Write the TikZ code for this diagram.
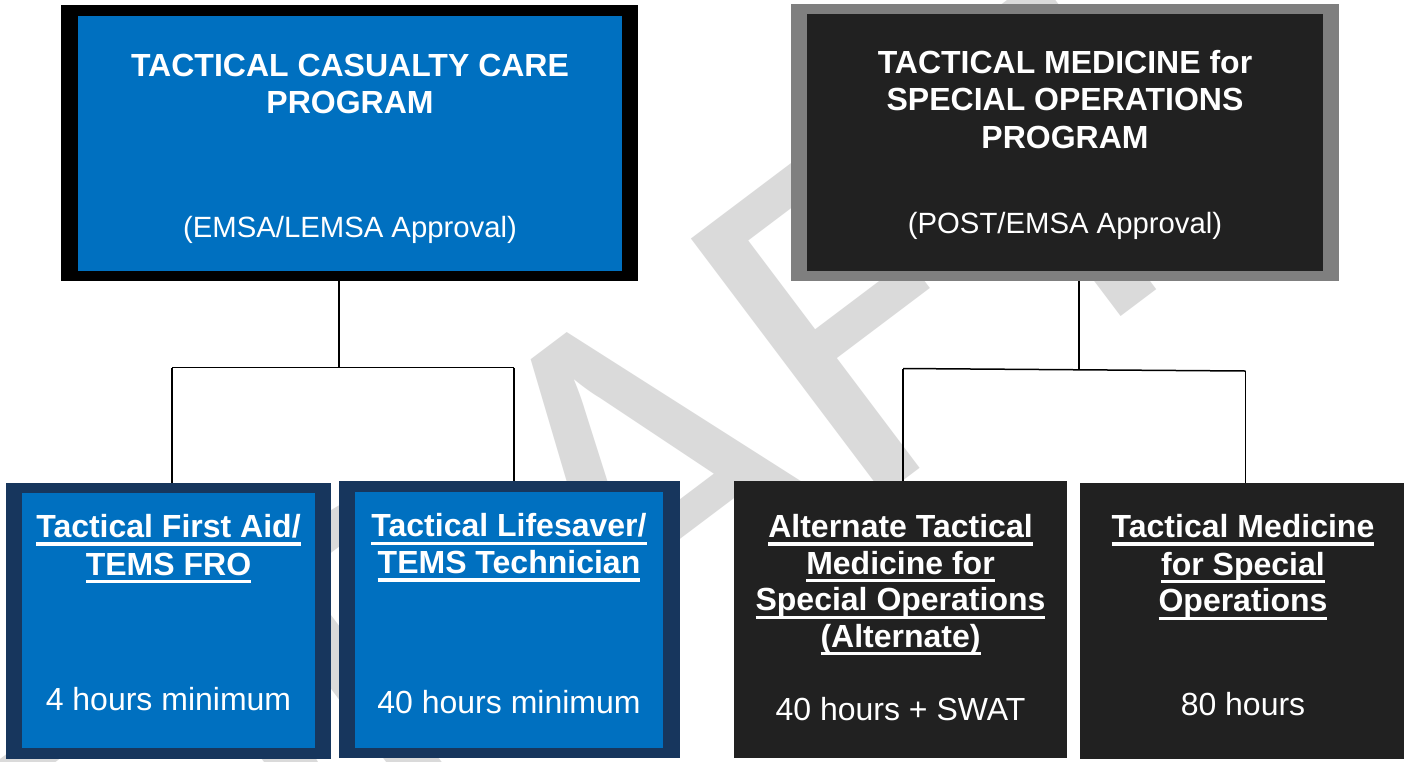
\documentclass[tikz,border=0pt]{standalone}
\usepackage{fontspec}
\setmainfont{Liberation Sans}
\newfontfamily\wmfont{Carlito}
\definecolor{boxblue}{RGB}{0,112,192}
\definecolor{navy}{RGB}{23,54,93}
\definecolor{darkfill}{RGB}{33,33,33}
\definecolor{midgray}{RGB}{127,127,127}
\definecolor{wmgray}{RGB}{218,218,218}
\newcommand\ulw[1]{\setbox0=\hbox{#1}\rlap{\rule[-8.3pt]{\wd0}{3.3pt}}\box0}
\begin{document}
\begin{tikzpicture}[x=1pt,y=-1pt,
  boxpart/.style={rectangle, inner sep=0pt, outer sep=0pt, draw=none},
  ttl/.style={anchor=base, inner sep=0pt, text=white, font=\fontsize{32}{37}\selectfont\bfseries},
  sub/.style={anchor=base, inner sep=0pt, text=white, font=\fontsize{29.3}{34}\selectfont},
  hrs/.style={anchor=base, inner sep=0pt, text=white, font=\fontsize{32}{37}\selectfont},
  wm/.style={anchor=base, inner sep=0pt, text=wmgray, rotate=37, font=\wmfont\fontsize{500}{500}\selectfont},
  conn/.style={draw=black, line width=1.5pt}
]
\useasboundingbox (0,0) rectangle (1404,761);
\fill[white] (0,0) rectangle (1404,761);
% watermark
\node[wm] (W) at (700,634) {DRAFT};

% top boxes
\node[boxpart, fill=black, minimum width=577pt, minimum height=276pt] (A) at (349.5,143) {};
\node[boxpart, fill=boxblue, minimum width=544pt, minimum height=255pt] (Ain) at (350,143.5) {};
\node[boxpart, fill=midgray, minimum width=548pt, minimum height=277pt] (B) at (1065,142.5) {};
\node[boxpart, fill=darkfill, minimum width=516pt, minimum height=257pt] (Bin) at (1065,142.5) {};

% bottom boxes
\node[boxpart, fill=navy, minimum width=325pt, minimum height=276pt] (C) at (168.5,621) {};
\node[boxpart, fill=boxblue, minimum width=293pt, minimum height=255pt] (Cin) at (168.5,620.5) {};
\node[boxpart, fill=navy, minimum width=341pt, minimum height=277pt] (D) at (509.5,619.5) {};
\node[boxpart, fill=boxblue, minimum width=308pt, minimum height=256pt] (Din) at (509,620) {};
\node[boxpart, fill=darkfill, minimum width=333pt, minimum height=277pt] (E) at (900.5,619.5) {};
\node[boxpart, fill=darkfill, minimum width=324pt, minimum height=276pt] (F) at (1242,621) {};

% connectors, left tree
\coordinate (Lmid) at (339,367.5);
\coordinate (Lleft) at (172,367.5);
\coordinate (Lright) at (514,367.5);
\draw[conn] (A.south -| Lmid) -- (Lmid);
\draw[conn] (Lleft) -- (Lright);
\draw[conn] (Lleft) -- (Lleft |- C.north);
\draw[conn] (Lright) -- (Lright |- D.north);
% connectors, right tree
\coordinate (Rmid) at (1079,369.5);
\coordinate (Rleft) at (903,368.5);
\coordinate (Rright) at (1245.5,371);
\draw[conn] (B.south -| Rmid) -- (Rmid);
\draw[conn] (Rleft) -- (Rright);
\draw[conn] (Rleft) -- (Rleft |- E.north);
\draw[conn] (Rright) -- (Rright |- F.north);

% texts box A
\node[ttl] (A1) at (350,76.7) {TACTICAL CASUALTY CARE};
\node[ttl] (A2) at (350,113.3) {PROGRAM};
\node[sub] (A3) at (350,237.3) {(EMSA/LEMSA Approval)};
% texts box B
\node[ttl] (B1) at (1065,73.3) {TACTICAL MEDICINE for};
\node[ttl] (B2) at (1065,110.7) {SPECIAL OPERATIONS};
\node[ttl] (B3) at (1065,148.3) {PROGRAM};
\node[sub] (B4) at (1065,233.3) {(POST/EMSA Approval)};
% texts box C
\node[ttl] (C1) at (168.5,537.3) {\ulw{Tactical First Aid/}};
\node[ttl] (C2) at (168.5,575) {\ulw{TEMS FRO}};
\node[hrs] (C3) at (168.5,710) {4 hours minimum};
% texts box D
\node[ttl] (D1) at (509,536.7) {\ulw{Tactical Lifesaver/}};
\node[ttl] (D2) at (509,573.3) {\ulw{TEMS Technician}};
\node[hrs] (D3) at (509,713.3) {40 hours minimum};
% texts box E
\node[ttl] (E1) at (900.5,537.3) {\ulw{Alternate Tactical}};
\node[ttl] (E2) at (900.5,574) {\ulw{Medicine for}};
\node[ttl] (E3) at (900.5,610.5) {\ulw{Special Operations}};
\node[ttl] (E4) at (900.5,647) {\ulw{(Alternate)}};
\node[hrs] (E5) at (900.5,720) {40 hours + SWAT};
% texts box F
\node[ttl] (F1) at (1243,537.3) {\ulw{Tactical Medicine}};
\node[ttl] (F2) at (1243,575) {\ulw{for Special}};
\node[ttl] (F3) at (1243,611.7) {\ulw{Operations}};
\node[hrs] (F4) at (1243,715) {80 hours};
\end{tikzpicture}
\end{document}
